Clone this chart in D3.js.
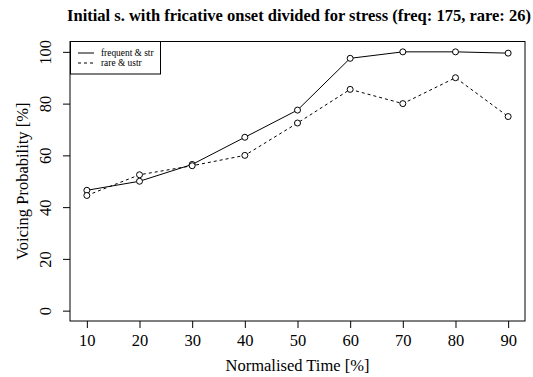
<!DOCTYPE html>
<html>
<head>
<meta charset="utf-8">
<script src="https://cdn.jsdelivr.net/npm/d3@7"></script>
<style>
  body { margin: 0; background: #fff; }
  svg { font-family: "Liberation Serif", "Times New Roman", serif; }
</style>
</head>
<body>
<div id="chart"></div>
<script>
const times = [10, 20, 30, 40, 50, 60, 70, 80, 90];
const frequentStr = [46.5, 50, 56.5, 67, 77.5, 97.5, 100, 100, 99.5];
const rareUstr = [44.5, 52.5, 56, 60, 72.5, 85.5, 80, 90, 75];
const xTicks = [10, 20, 30, 40, 50, 60, 70, 80, 90];
const yTicks = [0, 20, 40, 60, 80, 100];
const seriesNames = ['frequent & str', 'rare & ustr'];

const width = 533, height = 377;
const box = { left: 70, right: 525, top: 41.5, bottom: 321 };
const labelSize = 16.5;

const svg = d3.select('#chart')
  .append('svg')
  .attr('width', width)
  .attr('height', height);

// R-style scales: 4% padding around the data range
const x = d3.scaleLinear().domain([6.8, 93.2]).range([box.left, box.right]);
const y = d3.scaleLinear().domain([-4, 104]).range([box.bottom, box.top]);

// plot frame
svg.append('rect')
  .attr('x', box.left).attr('y', box.top)
  .attr('width', box.right - box.left).attr('height', box.bottom - box.top)
  .attr('fill', 'none').attr('stroke', '#000').attr('stroke-width', 1);

// axes
const xAxis = svg.append('g')
  .attr('transform', `translate(0,${box.bottom})`)
  .attr('font-family', 'Liberation Serif')
  .call(d3.axisBottom(x).tickValues(xTicks).tickSize(7).tickPadding(6));
xAxis.attr('font-family', 'Liberation Serif').attr('font-size', labelSize);
xAxis.select('.domain').remove();

const yAxis = svg.append('g')
  .attr('transform', `translate(${box.left},0)`)
  .call(d3.axisLeft(y).tickValues(yTicks).tickSize(7));
yAxis.attr('font-family', 'Liberation Serif').attr('font-size', labelSize);
yAxis.select('.domain').remove();
// rotated tick labels, reading bottom to top like R's default
yAxis.selectAll('text')
  .attr('text-anchor', 'middle')
  .attr('transform', 'rotate(-90)')
  .attr('x', 0)
  .attr('y', -19)
  .attr('dy', 0);

// titles
svg.append('text')
  .attr('x', 299)
  .attr('y', 21)
  .attr('text-anchor', 'middle')
  .attr('font-weight', 'bold')
  .attr('font-size', 16.5)
  .text('Initial s. with fricative onset divided for stress (freq: 175, rare: 26)');

svg.append('text')
  .attr('x', (box.left + box.right) / 2)
  .attr('y', 371)
  .attr('text-anchor', 'middle')
  .attr('font-size', labelSize)
  .text('Normalised Time [%]');

svg.append('text')
  .attr('transform', `translate(28,${(box.top + box.bottom) / 2}) rotate(-90)`)
  .attr('text-anchor', 'middle')
  .attr('font-size', labelSize)
  .text('Voicing Probability [%]');

// lines + points
const series = [
  { name: seriesNames[0], values: frequentStr, dash: null },
  { name: seriesNames[1], values: rareUstr, dash: '3,3' }
];

const line = d3.line()
  .x((d, i) => x(times[i]))
  .y(d => y(d));

series.forEach(s => {
  svg.append('path')
    .datum(s.values)
    .attr('fill', 'none')
    .attr('stroke', '#000')
    .attr('stroke-width', 1)
    .attr('stroke-dasharray', s.dash)
    .attr('d', line);

  svg.append('g')
    .selectAll('circle')
    .data(s.values)
    .enter()
    .append('circle')
    .attr('cx', (d, i) => x(times[i]))
    .attr('cy', d => y(d))
    .attr('r', 3)
    .attr('fill', '#fff')
    .attr('stroke', '#000')
    .attr('stroke-width', 1);
});

// legend
const legend = svg.append('g');
legend.append('rect')
  .attr('x', box.left + 0.5).attr('y', box.top)
  .attr('width', 90).attr('height', 32.5)
  .attr('fill', '#fff').attr('stroke', '#000').attr('stroke-width', 1);

series.forEach((s, i) => {
  const ly = 53 + i * 10;
  legend.append('line')
    .attr('x1', 78).attr('x2', 94)
    .attr('y1', ly).attr('y2', ly)
    .attr('stroke', '#000')
    .attr('stroke-dasharray', s.dash);
  legend.append('text')
    .attr('x', 101).attr('y', ly + 3)
    .attr('font-size', 9.4)
    .text(s.name);
});
</script>
</body>
</html>
